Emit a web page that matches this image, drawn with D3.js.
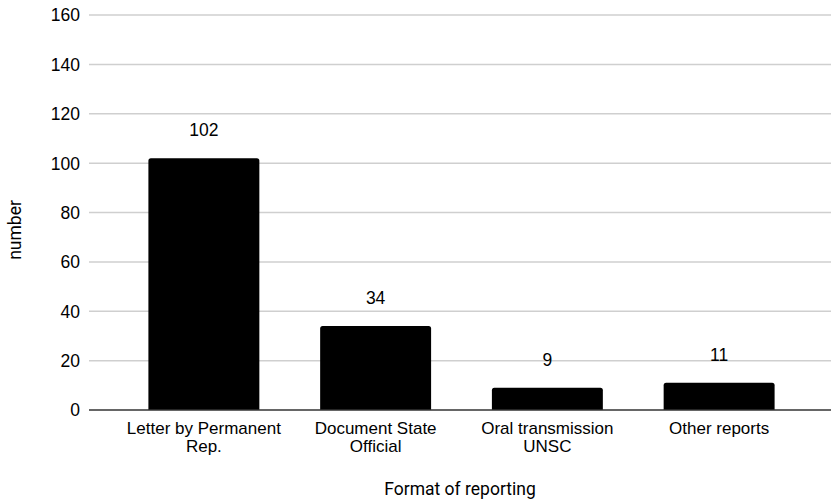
<!DOCTYPE html>
<html>
<head>
<meta charset="utf-8">
<script src="https://cdn.jsdelivr.net/npm/d3@7"></script>
<style>
  html, body { margin: 0; padding: 0; background: #fff; }
  svg { display: block; }
  .tick text, .val, .cat { font-family: "Liberation Sans", Arial, sans-serif; fill: #000; }
  .title { font-family: Roboto, "Liberation Sans", sans-serif; fill: #000; }
</style>
</head>
<body>
<svg id="chart" width="831" height="501"></svg>
<script>
// Reporting formats and their counts
const categories = [
  ["Letter by Permanent", "Rep."],
  ["Document State", "Official"],
  ["Oral transmission", "UNSC"],
  ["Other reports"]
];
const values = [102, 34, 9, 11];
const yTicks = [0, 20, 40, 60, 80, 100, 120, 140, 160];
const xTitle = "Format of reporting";
const yTitle = "number";

const svg = d3.select("#chart");
const plotLeft = 89, plotRight = 831, plotTop = 15, plotBottom = 410;

const keys = categories.map((c, i) => i);
const x = d3.scaleBand()
  .domain(keys)
  .range([118, 805])
  .paddingInner(0.354)
  .paddingOuter(0.177);

const y = d3.scaleLinear()
  .domain([0, 160])
  .range([plotBottom, plotTop]);

// Horizontal gridlines
svg.append("g")
  .selectAll("line")
  .data(yTicks.filter(t => t !== 0))
  .join("line")
  .attr("x1", plotLeft).attr("x2", plotRight)
  .attr("y1", d => y(d)).attr("y2", d => y(d))
  .attr("stroke", "#cfcfcf")
  .attr("stroke-width", 1.5);

// Y axis tick labels
const yAxis = d3.axisLeft(y).tickValues(yTicks).tickSize(0).tickPadding(0);
const gy = svg.append("g")
  .attr("transform", `translate(${plotLeft - 9},0)`)
  .call(yAxis);
gy.select(".domain").remove();
gy.selectAll(".tick text").attr("font-size", 17.5).attr("dy", "0.34em");

// Bars with slightly rounded tops
const r = 2.5;
svg.append("g")
  .selectAll("path")
  .data(values)
  .join("path")
  .attr("fill", "#000")
  .attr("d", (v, i) => {
    const x0 = x(i), x1 = x(i) + x.bandwidth();
    const yt = y(v), yb = y(0);
    return `M${x0},${yb}V${yt + r}Q${x0},${yt} ${x0 + r},${yt}H${x1 - r}Q${x1},${yt} ${x1},${yt + r}V${yb}Z`;
  });

// Baseline
svg.append("line")
  .attr("x1", plotLeft).attr("x2", plotRight)
  .attr("y1", y(0)).attr("y2", y(0))
  .attr("stroke", "#333")
  .attr("stroke-width", 1.5);

// Value labels
svg.append("g")
  .selectAll("text")
  .data(values)
  .join("text")
  .attr("class", "val")
  .attr("x", (v, i) => x(i) + x.bandwidth() / 2)
  .attr("y", v => y(v) - 22)
  .attr("text-anchor", "middle")
  .attr("font-size", 17.5)
  .text(v => v);

// Category labels, one text element per line
const catLines = categories.flatMap((c, i) => c.map((t, j) => ({ i, j, t })));
svg.append("g")
  .selectAll("text")
  .data(catLines)
  .join("text")
  .attr("class", "cat")
  .attr("text-anchor", "middle")
  .attr("font-size", 17)
  .attr("x", d => x(d.i) + x.bandwidth() / 2)
  .attr("y", d => 433.5 + d.j * 18.5)
  .text(d => d.t);

// Axis titles
svg.append("text")
  .attr("class", "title")
  .attr("x", (plotLeft + plotRight) / 2)
  .attr("y", 495)
  .attr("text-anchor", "middle")
  .attr("font-size", 17.5)
  .text(xTitle);

svg.append("text")
  .attr("class", "title")
  .attr("transform", `translate(21,230) rotate(-90)`)
  .attr("text-anchor", "middle")
  .attr("font-size", 17.5)
  .text(yTitle);
</script>
</body>
</html>
